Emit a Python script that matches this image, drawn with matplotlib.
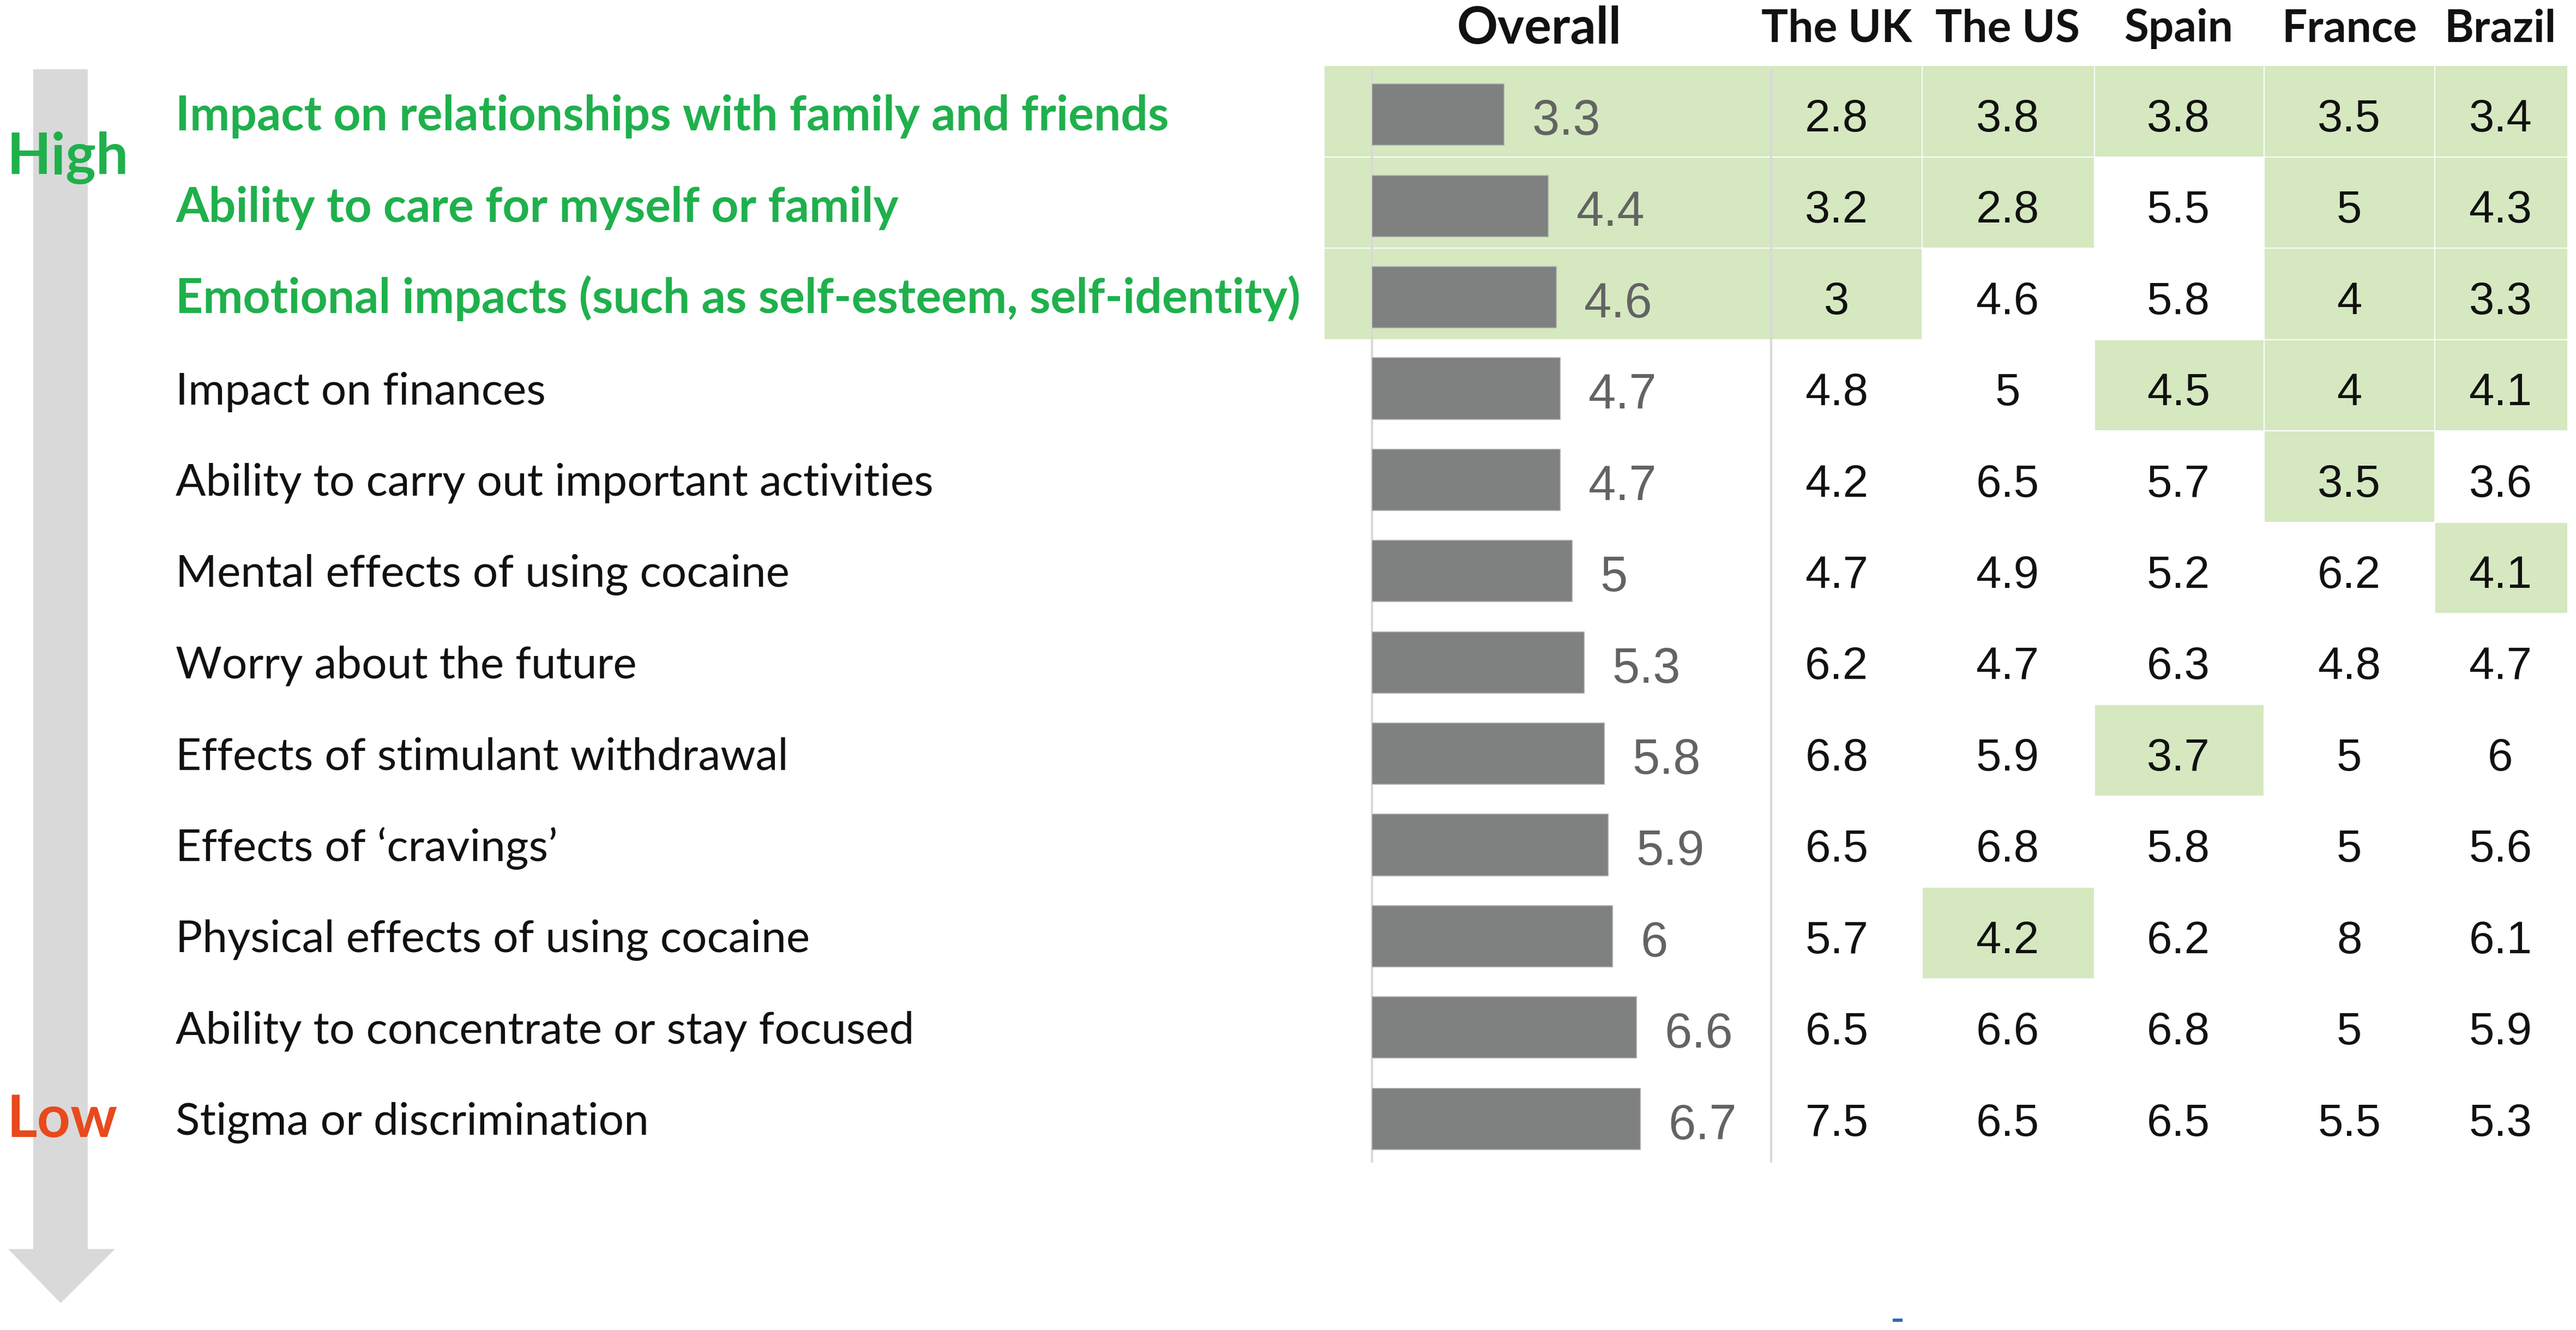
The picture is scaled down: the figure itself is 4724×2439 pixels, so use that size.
import matplotlib
matplotlib.use("Agg")
import matplotlib.pyplot as plt
from matplotlib.patches import Rectangle, Polygon

# ---------------- data ----------------
labels = [
    "Impact on relationships with family and friends",
    "Ability to care for myself or family",
    "Emotional impacts (such as self-esteem, self-identity)",
    "Impact on finances",
    "Ability to carry out important activities",
    "Mental effects of using cocaine",
    "Worry about the future",
    "Effects of stimulant withdrawal",
    "Effects of \u2018cravings\u2019",
    "Physical effects of using cocaine",
    "Ability to concentrate or stay focused",
    "Stigma or discrimination",
]
highlighted_labels = [0, 1, 2]

overall = [3.3, 4.4, 4.6, 4.7, 4.7, 5, 5.3, 5.8, 5.9, 6, 6.6, 6.7]

countries = ["The UK", "The US", "Spain", "France", "Brazil"]
uk = [2.8, 3.2, 3, 4.8, 4.2, 4.7, 6.2, 6.8, 6.5, 5.7, 6.5, 7.5]
us = [3.8, 2.8, 4.6, 5, 6.5, 4.9, 4.7, 5.9, 6.8, 4.2, 6.6, 6.5]
spain = [3.8, 5.5, 5.8, 4.5, 5.7, 5.2, 6.3, 3.7, 5.8, 6.2, 6.8, 6.5]
france = [3.5, 5, 4, 4, 3.5, 6.2, 4.8, 5, 5, 8, 5, 5.5]
brazil = [3.4, 4.3, 3.3, 4.1, 3.6, 4.1, 4.7, 6, 5.6, 6.1, 5.9, 5.3]
country_values = [uk, us, spain, france, brazil]

# rows highlighted (green cells) per column
hl_overall = [0, 1, 2]
hl_uk = [0, 1, 2]
hl_us = [0, 1, 9]
hl_spain = [0, 3, 7]
hl_france = [0, 1, 2, 3, 4]
hl_brazil = [0, 1, 2, 3, 5]
country_hl = [hl_uk, hl_us, hl_spain, hl_france, hl_brazil]

# ---------------- style / layout ----------------
GREEN_CELL = "#d5e8c0"
GREEN_TEXT = "#1fb04c"
LOW_TEXT = "#e8491d"
BAR_COLOR = "#7f8080"
VAL_COLOR = "#636363"
LINE_GRAY = "#d9d9d9"
LABEL_FONT = ["Lato", "DejaVu Sans"]
NUM_FONT = ["Liberation Sans", "DejaVu Sans"]

W, H = 1568.0, 810.0          # layout units (reference preview scale)
TOP, ROW_H = 40.0, 55.6       # table top and row height (layout units)
N = len(labels)

fig = plt.figure(figsize=(47.24, 24.39), dpi=100)

# layout axes: x in layout units, y in row units
tab = fig.add_axes([0, 0, 1, 1])
tab.set_xlim(0, W)
tab.set_ylim(-0.5 + (H - TOP) / ROW_H, -0.5 - TOP / ROW_H)
tab.axis("off")

def ry(ydisp):
    return -0.5 + (ydisp - TOP) / ROW_H

# column cell edges (layout units)
left_block = (806, 1066)
col_edges = [(1066, 1170), (1170, 1275), (1275, 1378), (1378, 1482), (1482, 1563)]
col_centers = [1118, 1222, 1326, 1430, 1522]

# green cells
for i in hl_overall:
    x0, x1 = left_block
    if i in hl_uk:
        x1 = col_edges[0][1]
    tab.add_patch(Rectangle((x0, i - 0.5), x1 - x0, 1.0, facecolor=GREEN_CELL,
                            edgecolor="white", linewidth=1.5, zorder=1))
for c, rows in enumerate(country_hl):
    for i in rows:
        if c == 0 and i in hl_overall:
            continue
        x0, x1 = col_edges[c]
        tab.add_patch(Rectangle((x0, i - 0.5), x1 - x0, 1.0, facecolor=GREEN_CELL,
                                edgecolor="white", linewidth=1.5, zorder=1))

# separator line
tab.plot([1078, 1078], [ry(42), ry(708)], color=LINE_GRAY, lw=3, zorder=2,
         solid_capstyle="butt")

# headers
hdr_y = ry(25.3)
tab.text(937, ry(26.5), "Overall", ha="center", va="baseline", fontsize=67,
         fontweight="bold", family=LABEL_FONT, color="#111111")
for c, name in enumerate(countries):
    tab.text(col_centers[c], hdr_y, name, ha="center", va="baseline", fontsize=59,
             fontweight="bold", family=LABEL_FONT, color="#111111")

# row labels
for i, lab in enumerate(labels):
    hl = i in highlighted_labels
    tab.text(107, i + 0.21, lab, ha="left", va="baseline",
             fontsize=63 if hl else 59,
             fontweight="bold" if hl else "normal", family=LABEL_FONT,
             color=GREEN_TEXT if hl else "#111111", zorder=3)

# country values
for c, vals in enumerate(country_values):
    for i, v in enumerate(vals):
        tab.text(col_centers[c], i + 0.22, f"{v:g}", ha="center", va="baseline",
                 fontsize=60, family=NUM_FONT, color="#111111", zorder=3)

# arrow (High -> Low)
arrow = Polygon([(20.2, ry(42.2)), (53.4, ry(42.2)), (53.4, ry(760.7)), (70, ry(760.7)),
                 (36.9, ry(793.6)), (5, ry(760.7)), (20.2, ry(760.7))],
                closed=True, facecolor=LINE_GRAY, edgecolor="none", zorder=1)
tab.add_patch(arrow)
tab.text(4, ry(96), "High", ha="left", va="center", fontsize=76, fontweight="bold",
         family=LABEL_FONT, color=GREEN_TEXT, zorder=3)
tab.text(4, ry(682), "Low", ha="left", va="center", fontsize=77, fontweight="bold",
         family=LABEL_FONT, color=LOW_TEXT, zorder=3)

# small blue mark near bottom
tab.add_patch(Rectangle((1152, ry(803)), 6, (2 / ROW_H), facecolor="#2e6bb0",
                        edgecolor="none"))

# bar axes for Overall (slightly lower than the cell grid, as in the reference)
PX_PER_UNIT = 24.4
BAR_TOP = TOP + 2.0
bax = fig.add_axes([835 / W, 1 - (BAR_TOP + N * ROW_H) / H, (1078 - 835) / W, N * ROW_H / H])
bax.set_facecolor("none")
bax.barh(range(N), overall, height=0.67, color=BAR_COLOR, edgecolor="#a6a6a6",
         linewidth=1.2, zorder=2)
bax.set_ylim(N - 0.5, -0.5)
bax.set_xlim(0, (1078 - 835) / PX_PER_UNIT)
for i, v in enumerate(overall):
    bax.annotate(f"{v:g}", xy=(v, i + 0.22), xytext=(37, 0), textcoords="offset points",
                 ha="left", va="baseline", fontsize=65, family=NUM_FONT, color=VAL_COLOR,
                 annotation_clip=False)
for s in ["top", "right", "bottom"]:
    bax.spines[s].set_visible(False)
bax.spines["left"].set_visible(False)
bax.set_xticks([])
bax.set_yticks([])
# axis line at the bar origin
tab.plot([835, 835], [ry(42), ry(708)], color=LINE_GRAY, lw=3, zorder=2,
         solid_capstyle="butt")

fig.savefig("out.png", dpi=100, facecolor="white")
